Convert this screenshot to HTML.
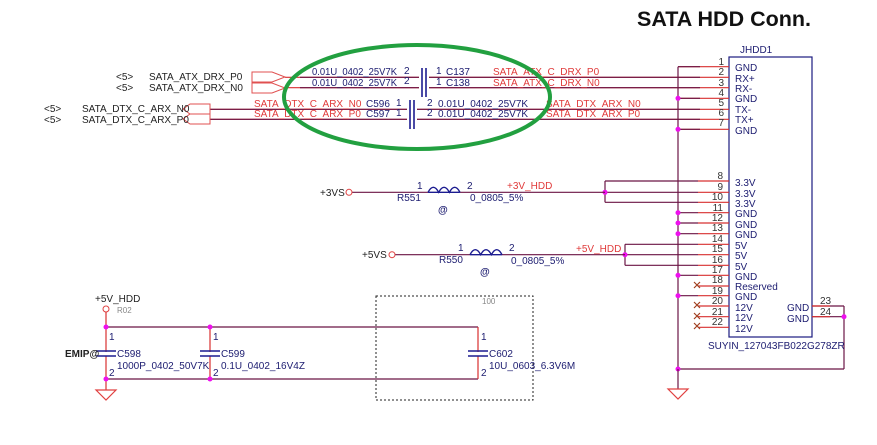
<!DOCTYPE html>
<html><head><meta charset="utf-8"><style>
html,body{margin:0;padding:0;background:#fff;}
svg{display:block;font-family:"Liberation Sans",sans-serif;}
.n{fill:#1c1c70;font-size:10px;}
.r{fill:#e03a3a;font-size:10px;}
.k{fill:#222;font-size:10px;}
.p{fill:#333;font-size:10px;}
.w{stroke:#6b1545;stroke-width:1.2;fill:none;}
.rd{stroke:#d83030;stroke-width:1.2;fill:none;}
.cp{stroke:#1c1c90;stroke-width:1.6;}
.d{fill:#ee10ee;}
</style></head><body>
<svg width="877" height="445" viewBox="0 0 877 445" xmlns="http://www.w3.org/2000/svg">
<text x="637" y="26" style="font-size:21.5px;font-weight:bold;fill:#111">SATA HDD Conn.</text>
<text x="740" y="53" class="n">JHDD1</text>
<rect x="729" y="57" width="83" height="280" fill="none" stroke="#1c1c80" stroke-width="1.2"/>
<g class="rd">
<line x1="678" y1="66.7" x2="729" y2="66.7"/><line x1="285" y1="77.3" x2="729" y2="77.3"/>
<line x1="285" y1="87.7" x2="729" y2="87.7"/><line x1="678" y1="98.3" x2="729" y2="98.3"/>
<line x1="210" y1="109.3" x2="729" y2="109.3"/><line x1="210" y1="119.3" x2="729" y2="119.3"/>
<line x1="678" y1="129.3" x2="729" y2="129.3"/>
</g>
<g class="w">
<line x1="300" y1="77.3" x2="700" y2="77.3"/><line x1="300" y1="87.7" x2="700" y2="87.7"/>
<line x1="210" y1="109.3" x2="700" y2="109.3"/><line x1="210" y1="119.3" x2="700" y2="119.3"/>
<line x1="678" y1="66.7" x2="700" y2="66.7"/><line x1="678" y1="98.3" x2="700" y2="98.3"/><line x1="678" y1="129.3" x2="700" y2="129.3"/>
<line x1="678" y1="66.7" x2="678" y2="369"/>
<line x1="678" y1="369" x2="844" y2="369"/><line x1="844" y1="306" x2="844" y2="369"/>
<line x1="812" y1="306" x2="844" y2="306"/><line x1="812" y1="316.7" x2="844" y2="316.7"/>
</g>
<g class="p" text-anchor="end">
<text x="724" y="65">1</text><text x="724" y="75">2</text><text x="724" y="86">3</text><text x="724" y="96">4</text><text x="724" y="106">5</text><text x="724" y="116">6</text><text x="724" y="126">7</text>
</g>
<g class="n">
<text x="735" y="71">GND</text><text x="735" y="82">RX+</text><text x="735" y="92">RX-</text><text x="735" y="102">GND</text><text x="735" y="113">TX-</text><text x="735" y="123">TX+</text><text x="735" y="134">GND</text>
</g>
<circle cx="678" cy="98.3" r="2.5" class="d"/><circle cx="678" cy="129.3" r="2.5" class="d"/>
<g class="rd">
<line x1="698" y1="181" x2="729" y2="181"/><line x1="698" y1="192.3" x2="729" y2="192.3"/><line x1="698" y1="202.3" x2="729" y2="202.3"/>
<line x1="698" y1="212.7" x2="729" y2="212.7"/><line x1="698" y1="223" x2="729" y2="223"/><line x1="698" y1="233.7" x2="729" y2="233.7"/>
<line x1="698" y1="244.3" x2="729" y2="244.3"/><line x1="698" y1="254.7" x2="729" y2="254.7"/><line x1="698" y1="265.3" x2="729" y2="265.3"/>
<line x1="698" y1="275.3" x2="729" y2="275.3"/><line x1="698" y1="286" x2="729" y2="286"/><line x1="698" y1="295.7" x2="729" y2="295.7"/>
<line x1="698" y1="306" x2="729" y2="306"/><line x1="698" y1="316.7" x2="729" y2="316.7"/><line x1="698" y1="327.3" x2="729" y2="327.3"/>
<line x1="812" y1="306" x2="830" y2="306"/><line x1="812" y1="316.7" x2="830" y2="316.7"/>
</g>
<g class="w">
<line x1="605" y1="181" x2="698" y2="181"/><line x1="605" y1="192.3" x2="698" y2="192.3"/><line x1="605" y1="202.3" x2="698" y2="202.3"/>
<line x1="605" y1="181" x2="605" y2="202.3"/>
<line x1="678" y1="212.7" x2="698" y2="212.7"/><line x1="678" y1="223" x2="698" y2="223"/><line x1="678" y1="233.7" x2="698" y2="233.7"/>
<line x1="625" y1="244.3" x2="698" y2="244.3"/><line x1="625" y1="254.7" x2="698" y2="254.7"/><line x1="625" y1="265.3" x2="698" y2="265.3"/>
<line x1="625" y1="244.3" x2="625" y2="265.3"/>
<line x1="678" y1="275.3" x2="698" y2="275.3"/><line x1="678" y1="295.7" x2="698" y2="295.7"/>
</g>
<g stroke="#a04020" stroke-width="1.2">
<path d="M694 282l6 6M700 282l-6 6"/><path d="M694 302l6 6M700 302l-6 6"/><path d="M694 313l6 6M700 313l-6 6"/><path d="M694 323l6 6M700 323l-6 6"/>
</g>
<g class="p" text-anchor="end">
<text x="723" y="179">8</text><text x="723" y="190">9</text><text x="723" y="200">10</text><text x="723" y="211">11</text><text x="723" y="221">12</text><text x="723" y="231">13</text><text x="723" y="242">14</text><text x="723" y="252">15</text><text x="723" y="263">16</text><text x="723" y="273">17</text><text x="723" y="283">18</text><text x="723" y="294">19</text><text x="723" y="304">20</text><text x="723" y="315">21</text><text x="723" y="325">22</text>
</g>
<g class="n">
<text x="735" y="186">3.3V</text><text x="735" y="197">3.3V</text><text x="735" y="207">3.3V</text><text x="735" y="217">GND</text><text x="735" y="228">GND</text><text x="735" y="238">GND</text><text x="735" y="249">5V</text><text x="735" y="259">5V</text><text x="735" y="270">5V</text><text x="735" y="280">GND</text><text x="735" y="290">Reserved</text><text x="735" y="300">GND</text><text x="735" y="311">12V</text><text x="735" y="321">12V</text><text x="735" y="332">12V</text>
<text x="787" y="311">GND</text><text x="787" y="322">GND</text>
<text x="708" y="349">SUYIN_127043FB022G278ZR</text>
</g>
<text x="820" y="304" class="p">23</text><text x="820" y="315" class="p">24</text>
<g class="d">
<circle cx="605" cy="192.3" r="2.5"/><circle cx="625" cy="254.7" r="2.5"/>
<circle cx="678" cy="212.7" r="2.5"/><circle cx="678" cy="223" r="2.5"/><circle cx="678" cy="233.7" r="2.5"/><circle cx="678" cy="275.3" r="2.5"/><circle cx="678" cy="295.7" r="2.5"/><circle cx="678" cy="369" r="2.5"/><circle cx="844" cy="316.7" r="2.5"/>
</g>
<line x1="678" y1="369" x2="678" y2="389" class="w"/>
<path d="M668 389h20l-10 10z" fill="none" stroke="#e04040" stroke-width="1.2"/>
<rect x="419" y="70" width="10" height="25" fill="#fff"/><rect x="407" y="102" width="10" height="25" fill="#fff"/>
<g class="cp">
<line x1="422" y1="68" x2="422" y2="97"/><line x1="426" y1="68" x2="426" y2="97"/>
<line x1="410" y1="100" x2="410" y2="129"/><line x1="414" y1="100" x2="414" y2="129"/>
</g>
<g class="n">
<text x="312" y="75" textLength="85" lengthAdjust="spacingAndGlyphs">0.01U_0402_25V7K</text><text x="404" y="74">2</text><text x="436" y="74">1</text><text x="446" y="75">C137</text>
<text x="312" y="86" textLength="85" lengthAdjust="spacingAndGlyphs">0.01U_0402_25V7K</text><text x="404" y="84">2</text><text x="436" y="85">1</text><text x="446" y="86">C138</text>
<text x="366" y="107">C596</text><text x="396" y="106">1</text><text x="427" y="106">2</text><text x="438" y="107">0.01U_0402_25V7K</text>
<text x="366" y="117">C597</text><text x="396" y="116">1</text><text x="427" y="116">2</text><text x="438" y="117">0.01U_0402_25V7K</text>
</g>
<g class="r">
<text x="493" y="75">SATA_ATX_C_DRX_P0</text><text x="493" y="86">SATA_ATX_C_DRX_N0</text>
<text x="254" y="107">SATA_DTX_C_ARX_N0</text><text x="254" y="117">SATA_DTX_C_ARX_P0</text>
<text x="546" y="107">SATA_DTX_ARX_N0</text><text x="546" y="117">SATA_DTX_ARX_P0</text>
</g>
<g fill="none" stroke="#e05050" stroke-width="1">
<path d="M252 72h20l13 5l-13 5h-20z"/><path d="M252 83h20l13 5l-13 5h-20z"/>
<path d="M210 104h-20l-7 5l7 5h20z"/><path d="M210 114h-20l-7 5l7 5h20z"/>
</g>
<g class="k">
<text x="116" y="80">&lt;5&gt;</text><text x="149" y="80">SATA_ATX_DRX_P0</text>
<text x="116" y="91">&lt;5&gt;</text><text x="149" y="91">SATA_ATX_DRX_N0</text>
<text x="44" y="112">&lt;5&gt;</text><text x="82" y="112">SATA_DTX_C_ARX_N0</text>
<text x="44" y="123">&lt;5&gt;</text><text x="82" y="123">SATA_DTX_C_ARX_P0</text>
</g>
<ellipse cx="417" cy="97" rx="133" ry="52" fill="none" stroke="#22a040" stroke-width="4"/>
<g class="w"><line x1="352" y1="192.3" x2="428" y2="192.3"/><line x1="460" y1="192.3" x2="605" y2="192.3"/>
<line x1="395" y1="254.7" x2="470" y2="254.7"/><line x1="502" y1="254.7" x2="625" y2="254.7"/></g>
<path d="M428 192.3q5.3-10 10.7 0q5.3-10 10.7 0q5.3-10 10.6 0M428 192.3h32" fill="none" stroke="#1c1c90" stroke-width="1.4"/>
<path d="M470 254.7q5.3-10 10.7 0q5.3-10 10.7 0q5.3-10 10.6 0M470 254.7h32" fill="none" stroke="#1c1c90" stroke-width="1.4"/>
<circle cx="349" cy="192.3" r="3" fill="#fff" stroke="#e04040"/><circle cx="392" cy="254.7" r="3" fill="#fff" stroke="#e04040"/>
<text x="320" y="196" class="k">+3VS</text><text x="362" y="258" class="k">+5VS</text>
<g class="n"><text x="417" y="189">1</text><text x="467" y="189">2</text><text x="397" y="201">R551</text><text x="470" y="201">0_0805_5%</text><text x="438" y="213" style="font-weight:bold">@</text>
<text x="458" y="251">1</text><text x="509" y="251">2</text><text x="439" y="263">R550</text><text x="511" y="264">0_0805_5%</text><text x="480" y="275" style="font-weight:bold">@</text></g>
<text x="507" y="189" class="r">+3V_HDD</text><text x="576" y="252" class="r">+5V_HDD</text>
<rect x="376" y="296" width="157" height="104" fill="none" stroke="#222" stroke-width="1" stroke-dasharray="2,2"/>
<text x="482" y="304" style="font-size:8px;fill:#888">100</text>
<text x="95" y="302" class="k">+5V_HDD</text>
<circle cx="106" cy="309" r="3" fill="#fff" stroke="#e04040"/>
<text x="117" y="313" style="font-size:8px;fill:#888">R02</text>
<g class="w"><line x1="106" y1="327" x2="478" y2="327"/><line x1="106" y1="379" x2="478" y2="379"/></g>
<g class="rd"><line x1="106" y1="312" x2="106" y2="390"/><line x1="210" y1="327" x2="210" y2="379"/><line x1="478" y1="327" x2="478" y2="379"/></g>
<g stroke="#fff" stroke-width="5"><line x1="106" y1="352" x2="106" y2="356"/><line x1="210" y1="352" x2="210" y2="356"/><line x1="478" y1="352" x2="478" y2="356"/></g>
<g class="cp"><line x1="96" y1="351" x2="116" y2="351"/><line x1="96" y1="356" x2="116" y2="356"/>
<line x1="200" y1="351" x2="220" y2="351"/><line x1="200" y1="356" x2="220" y2="356"/>
<line x1="468" y1="351" x2="488" y2="351"/><line x1="468" y1="356" x2="488" y2="356"/></g>
<path d="M96 390h20l-10 10z" fill="none" stroke="#e04040" stroke-width="1.2"/>
<g class="d"><circle cx="106" cy="327" r="2.5"/><circle cx="210" cy="327" r="2.5"/><circle cx="106" cy="379" r="2.5"/><circle cx="210" cy="379" r="2.5"/></g>
<g class="n">
<text x="109" y="340">1</text><text x="109" y="376">2</text><text x="213" y="340">1</text><text x="213" y="376">2</text><text x="481" y="340">1</text><text x="481" y="376">2</text>
<text x="117" y="357">C598</text><text x="117" y="369">1000P_0402_50V7K</text>
<text x="221" y="357">C599</text><text x="221" y="369">0.1U_0402_16V4Z</text>
<text x="489" y="357">C602</text><text x="489" y="369">10U_0603_6.3V6M</text>
</g>
<text x="65" y="357" class="k" style="font-weight:bold">EMIP@</text>
</svg>
</body></html>
